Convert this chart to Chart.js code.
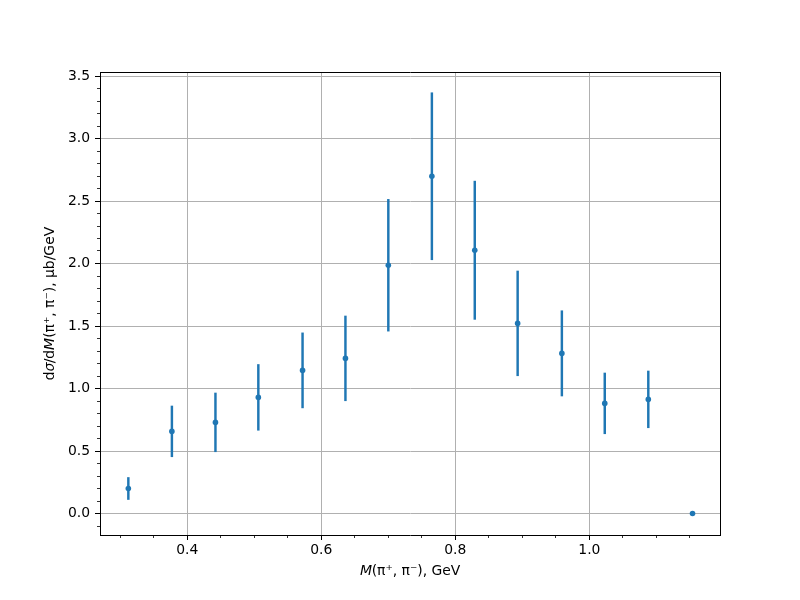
<!DOCTYPE html>
<html>
<head>
<meta charset="utf-8">
<script src="https://cdn.jsdelivr.net/npm/chart.js@4"></script>
<style>
  html, body { margin: 0; padding: 0; background: #fff; }
  #wrap { width: 800px; height: 600px; }
</style>
</head>
<body>
<div id="wrap"><canvas id="myChart" width="800" height="600"></canvas></div>
<script>
// pi+ pi- invariant mass bins (GeV) and measured cross section (ub/GeV)
const massGeV = [0.312, 0.377, 0.442, 0.506, 0.572, 0.636, 0.700, 0.765, 0.829, 0.893, 0.959, 1.023, 1.088, 1.154];
const xsec    = [0.200, 0.657, 0.729, 0.929, 1.145, 1.241, 1.986, 2.698, 2.106, 1.521, 1.281, 0.881, 0.913, 0.000];
const xsecErr = [0.088, 0.203, 0.235, 0.263, 0.300, 0.339, 0.527, 0.668, 0.553, 0.419, 0.341, 0.243, 0.227, 0.000];

const xRange = [0.2697, 1.195];
const yRange = [-0.172, 3.532];
const xMajorStep = 0.2, xMinorStep = 0.05;
const yMajorStep = 0.5, yMinorStep = 0.1;

const blue = '#1f77b4';
const font = { family: 'DejaVu Sans', size: 13.9 };

const points = massGeV.map((m, i) => ({ x: m, y: xsec[i] }));
const bars = massGeV.map((m, i) => ({ x: m, y: [xsec[i] - xsecErr[i], xsec[i] + xsecErr[i]] }));

const fixW = (w) => (scale) => { scale.width = w; };
const fixH = (h) => (scale) => { scale.height = h; };

const ctx = document.getElementById('myChart').getContext('2d');
new Chart(ctx, {
  type: 'scatter',
  data: {
    datasets: [
      {
        type: 'bar',
        data: bars,
        backgroundColor: blue,
        borderWidth: 0,
        borderSkipped: false,
        barThickness: 1.8,
        xAxisID: 'x',
        yAxisID: 'y',
        order: 2
      },
      {
        type: 'scatter',
        data: points,
        backgroundColor: blue,
        borderWidth: 0,
        pointRadius: 2.8,
        pointHoverRadius: 2.8,
        xAxisID: 'x',
        yAxisID: 'y',
        order: 1
      }
    ]
  },
  options: {
    responsive: false,
    animation: false,
    events: [],
    layout: { padding: { left: 0, top: 72, right: 80, bottom: 0 } },
    plugins: { legend: { display: false }, tooltip: { enabled: false } },
    scales: {
      x: {
        type: 'linear', position: 'bottom', weight: 1, offset: false,
        min: xRange[0], max: xRange[1],
        afterFit: fixH(65),
        border: { display: true, color: '#000', width: 1 },
        grid: { offset: false, color: '#b0b0b0', lineWidth: 1, tickColor: '#000', tickLength: 5, tickWidth: 1 },
        ticks: { stepSize: xMajorStep, includeBounds: false, autoSkip: false, maxRotation: 0,
                 color: '#000', font: font, padding: 2 },
        title: { display: true, text: '𝘔(π⁺, π⁻), GeV', color: '#000', font: font,
                 padding: { top: 0, bottom: 20 } }
      },
      xMinor: {
        type: 'linear', position: 'bottom', weight: -1, offset: false,
        min: xRange[0], max: xRange[1],
        afterFit: fixH(0),
        border: { display: false },
        grid: { offset: false, drawOnChartArea: false, tickColor: '#000', tickLength: 3, tickWidth: 0.8 },
        ticks: { stepSize: xMinorStep, includeBounds: false, autoSkip: false, display: false }
      },
      xTop: {
        type: 'linear', position: 'top', offset: false,
        min: xRange[0], max: xRange[1],
        afterFit: fixH(0),
        border: { display: true, color: '#000', width: 1 },
        grid: { display: false },
        ticks: { display: false }
      },
      y: {
        type: 'linear', position: 'left', weight: 1,
        min: yRange[0], max: yRange[1],
        afterFit: fixW(100),
        border: { display: true, color: '#000', width: 1 },
        grid: { color: '#b0b0b0', lineWidth: 1, tickColor: '#000', tickLength: 5, tickWidth: 1 },
        ticks: { stepSize: yMajorStep, includeBounds: false, autoSkip: false,
                 color: '#000', font: font, padding: 5,
                 callback: (v) => v.toFixed(1) },
        title: { display: true, text: 'd𝜎/d𝘔(π⁺, π⁻), μb/GeV', color: '#000', font: font,
                 padding: { top: 42, bottom: 0 } }
      },
      yMinor: {
        type: 'linear', position: 'left', weight: -1,
        min: yRange[0], max: yRange[1],
        afterFit: fixW(0),
        border: { display: false },
        grid: { drawOnChartArea: false, tickColor: '#000', tickLength: 3, tickWidth: 0.8 },
        ticks: { stepSize: yMinorStep, includeBounds: false, autoSkip: false, display: false }
      },
      yRight: {
        type: 'linear', position: 'right',
        min: yRange[0], max: yRange[1],
        afterFit: fixW(0),
        border: { display: true, color: '#000', width: 1 },
        grid: { display: false },
        ticks: { display: false }
      }
    }
  }
});
</script>
</body>
</html>
